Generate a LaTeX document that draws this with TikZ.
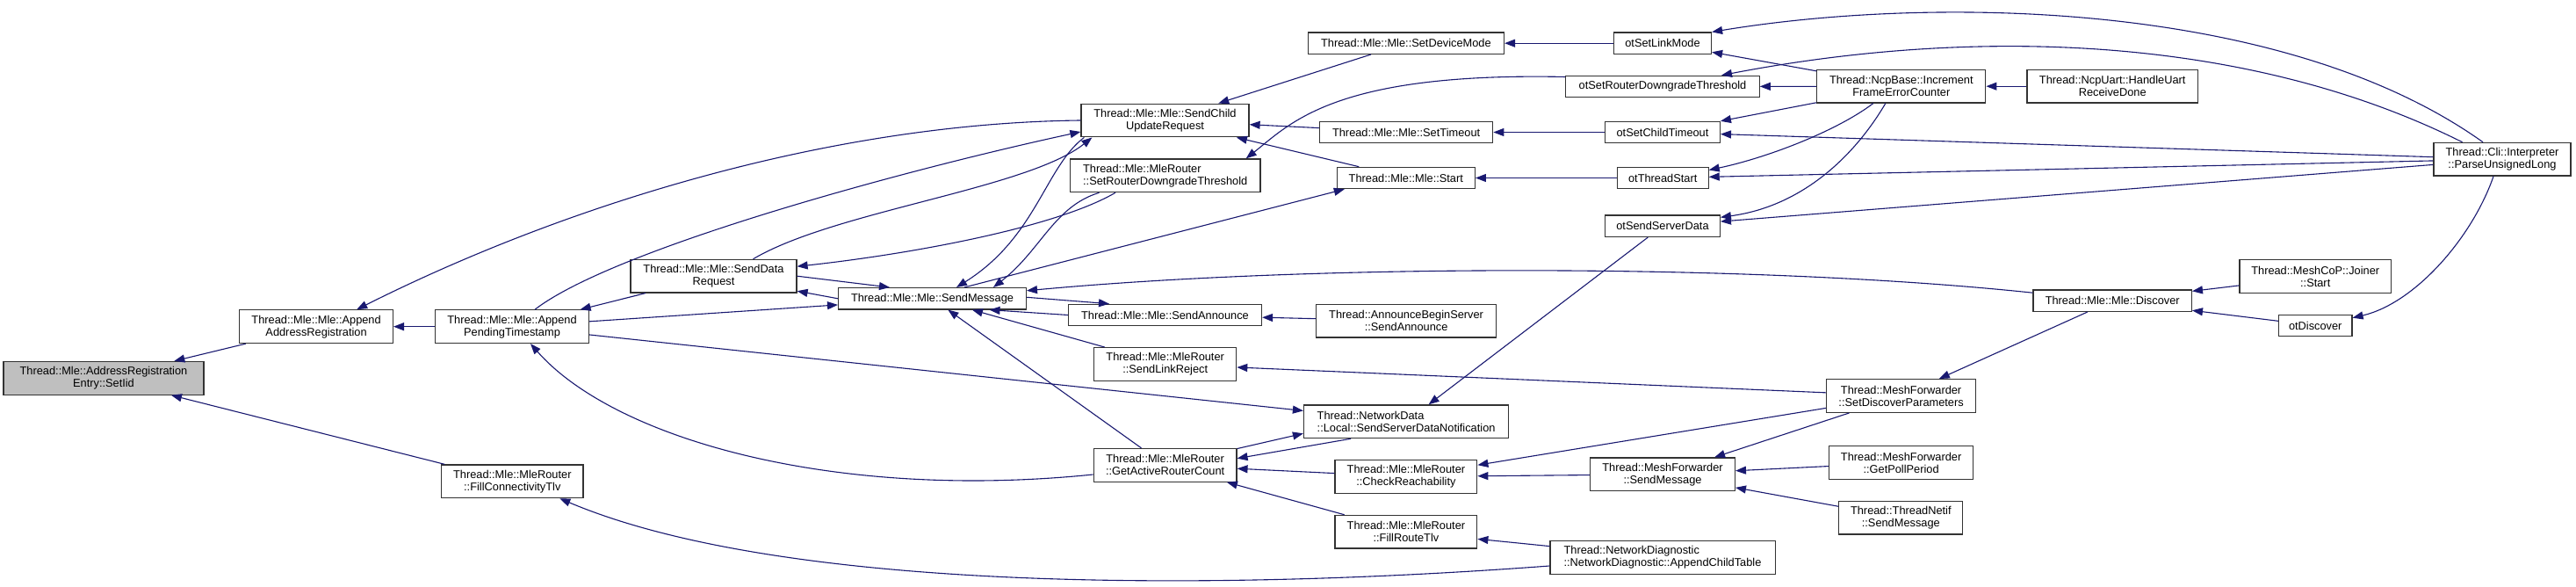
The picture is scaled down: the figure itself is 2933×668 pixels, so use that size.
\documentclass[tikz,border=0pt]{standalone}
\usepackage{fontspec}
\setmainfont{Liberation Sans}
\usetikzlibrary{arrows.meta}
\definecolor{callblue}{RGB}{25,25,112}
\definecolor{rootgray}{RGB}{191,191,191}

\begin{document}
\begin{tikzpicture}[
    x=1pt, y=-1pt,
    every node/.style={font=\fontsize{12.8}{14}\selectfont},
    fn/.style={rectangle, draw=black!80, line width=1.2pt, fill=white, align=center, minimum height=24.4pt, inner xsep=3pt, inner ysep=2pt},
    fntwo/.style={fn, minimum height=37.7pt},
    call/.style={-{Triangle[length=12pt,width=9pt]}, draw=callblue, line width=1.1pt}
]
\useasboundingbox (0,0) rectangle (2933,668);

\node[fntwo, fill=rootgray, minimum width=228pt] (setiid) at (118,430.3) {Thread::Mle::AddressRegistration\\Entry::SetIid};
\node[fntwo, minimum width=174.6pt] (appaddr) at (360.1,371.7) {Thread::Mle::Mle::Append\\AddressRegistration};
\node[fntwo, minimum width=175pt] (apppend) at (583,371.7) {Thread::Mle::Mle::Append\\PendingTimestamp};
\node[fntwo, minimum width=161.4pt] (fillconn) at (583.3,547.8) {Thread::Mle::MleRouter\\::FillConnectivityTlv};
\node[fntwo, minimum width=189pt] (senddata) at (812.5,314.2) {Thread::Mle::Mle::SendData\\Request};
\node[fn, minimum width=213.8pt] (sendmsg) at (1061.5,339.8) {Thread::Mle::Mle::SendMessage};

\node[fntwo, minimum width=191pt] (sendchild) at (1326.5,137) {Thread::Mle::Mle::SendChild\\UpdateRequest};
\node[fntwo, align=left, minimum width=216.6pt] (setdowng) at (1326.7,199.8) {Thread::Mle::MleRouter\\::SetRouterDowngradeThreshold};
\node[fn, minimum width=220pt] (sendann) at (1326.5,358.5) {Thread::Mle::Mle::SendAnnounce};
\node[fntwo, minimum width=162pt] (linkrej) at (1326.7,414.5) {Thread::Mle::MleRouter\\::SendLinkReject};
\node[fntwo, minimum width=162.7pt] (activecnt) at (1326.6,529.3) {Thread::Mle::MleRouter\\::GetActiveRouterCount};

\node[fn, minimum width=223.2pt] (devmode) at (1600.9,49.2) {Thread::Mle::Mle::SetDeviceMode};
\node[fn, minimum width=197.2pt] (settimeout) at (1601.1,150.5) {Thread::Mle::Mle::SetTimeout};
\node[fn, minimum width=157.1pt] (mlestart) at (1600.8,202.5) {Thread::Mle::Mle::Start};
\node[fntwo, minimum width=204.8pt] (annbegin) at (1601.1,365.2) {Thread::AnnounceBeginServer\\::SendAnnounce};
\node[fntwo, align=left, minimum width=233.2pt] (srvnotif) at (1601.1,479.8) {Thread::NetworkData\\::Local::SendServerDataNotification};
\node[fntwo, minimum width=161.8pt] (checkreach) at (1600.9,542.5) {Thread::Mle::MleRouter\\::CheckReachability};
\node[fntwo, minimum width=161.8pt] (fillroute) at (1600.9,605.2) {Thread::Mle::MleRouter\\::FillRouteTlv};

\node[fn, minimum width=111pt] (otlinkmode) at (1893,49.2) {otSetLinkMode};
\node[fn, minimum width=220.4pt] (otdowng) at (1893,98.5) {otSetRouterDowngradeThreshold};
\node[fn, minimum width=130.7pt] (otchildto) at (1893,150.5) {otSetChildTimeout};
\node[fn, minimum width=103.8pt] (otstart) at (1893.2,202.5) {otThreadStart};
\node[fn, minimum width=130.7pt] (otsrvdata) at (1893,257.3) {otSendServerData};
\node[fntwo, minimum width=164.7pt] (meshsend) at (1893,539.8) {Thread::MeshForwarder\\::SendMessage};
\node[fntwo, align=left, minimum width=256.2pt] (childtable) at (1893,634.5) {Thread::NetworkDiagnostic\\::NetworkDiagnostic::AppendChildTable};

\node[fntwo, minimum width=192pt] (ncpinc) at (2164.8,98.2) {Thread::NcpBase::Increment\\FrameErrorCounter};
\node[fntwo, minimum width=170pt] (discparams) at (2164.6,450.5) {Thread::MeshForwarder\\::SetDiscoverParameters};
\node[fntwo, minimum width=164pt] (pollper) at (2164.6,526.5) {Thread::MeshForwarder\\::GetPollPeriod};
\node[fntwo, minimum width=141pt] (netifsend) at (2164.3,589.2) {Thread::ThreadNetif\\::SendMessage};

\node[fntwo, minimum width=194.4pt] (uartdone) at (2405.2,98.2) {Thread::NcpUart::HandleUart\\ReceiveDone};
\node[fn, minimum width=180.3pt] (discover) at (2405.2,342.2) {Thread::Mle::Mle::Discover};
\node[fntwo, minimum width=172.3pt] (joinstart) at (2636.2,314.5) {Thread::MeshCoP::Joiner\\::Start};
\node[fn, minimum width=83.6pt] (otdiscover) at (2636.2,370.5) {otDiscover};
\node[fntwo, minimum width=156pt] (parseul) at (2849,181.2) {Thread::Cli::Interpreter\\::ParseUnsignedLong};

\draw[call] (appaddr) -- (setiid);
\draw[call] (fillconn) -- (setiid);
\draw[call] (apppend) -- (appaddr);
\draw[call] (sendchild.west) .. controls (950,140) and (650,230) .. ([xshift=46pt]appaddr.north);
\draw[call] ([xshift=26pt]apppend.north) .. controls (699,283) and (1031,193) .. ([yshift=-13pt]sendchild.west);
\draw[call] (senddata) -- (apppend);
\draw[call] (apppend) -- (sendmsg);
\draw[call] (apppend) -- (srvnotif);
\draw[call] ([yshift=-10.7pt]activecnt.west) .. controls (950,570) and (700,500) .. ([xshift=21pt]apppend.south);
\draw[call] ([yshift=-9.5pt]childtable.west) .. controls (1350,675) and (880,670) .. ([xshift=54pt]fillconn.south);

\draw[call] ([xshift=4pt]sendchild.south west) .. controls (1190,190) and (1180,270) .. ([xshift=27.5pt]sendmsg.north);
\draw[call] ([xshift=45pt]senddata.north) .. controls (950,240) and (1170,215) .. ([xshift=13pt]sendchild.south west);
\draw[call] (devmode) -- (sendchild);
\draw[call] (settimeout) -- (sendchild);
\draw[call] (mlestart) -- (sendchild);
\draw[call] ([xshift=-56.7pt]setdowng.south) .. controls (1200,260) and (1030,290) .. ([yshift=11pt]senddata.east);
\draw[call] ([xshift=-75.2pt]setdowng.south) .. controls (1200,235) and (1185,285) .. ([xshift=69.5pt]sendmsg.north);
\draw[call] ([yshift=11pt]otdowng.west) .. controls (1520,82) and (1470,140) .. ([xshift=92pt]setdowng.north);
\draw[call] (senddata.east) -- ([xshift=-48.5pt]sendmsg.north);
\draw[call] (sendmsg.west) -- ([yshift=-17pt]senddata.east);
\draw[call] ([xshift=36.5pt]sendmsg.north) -- ([xshift=-70pt]mlestart.south);
\draw[call] ([yshift=9pt]discover.west) .. controls (2000,300) and (1500,300) .. ([yshift=9pt]sendmsg.east);
\draw[call] ([yshift=1.5pt]sendmsg.east) -- ([xshift=-63.5pt]sendann.north);
\draw[call] (sendann.west) -- ([xshift=65pt]sendmsg.south);
\draw[call] (linkrej) -- (sendmsg);
\draw[call] (activecnt) -- (sendmsg);

\draw[call] (annbegin) -- (sendann);
\draw[call] (discparams) -- (linkrej);
\draw[call] (activecnt) -- ([yshift=-13.5pt]srvnotif.west);
\draw[call] ([xshift=-63pt]srvnotif.south) -- ([yshift=7.6pt]activecnt.east);
\draw[call] (checkreach) -- (activecnt);
\draw[call] (fillroute) -- (activecnt);
\draw[call] (otsrvdata) -- (srvnotif);
\draw[call] (meshsend) -- (checkreach);
\draw[call] (discparams) -- (checkreach);
\draw[call] (childtable) -- (fillroute);
\draw[call] (discparams) -- (meshsend);
\draw[call] (pollper) -- (meshsend);
\draw[call] (netifsend) -- (meshsend);

\draw[call] (discover) -- (discparams);
\draw[call] (joinstart) -- (discover);
\draw[call] (otdiscover) -- (discover);
\draw[call] ([xshift=-10pt]parseul.south) .. controls (2815,270) and (2750,345) .. ([yshift=8.8pt]otdiscover.east);
\draw[call] ([xshift=-22pt]parseul.north) .. controls (2600,0) and (2200,-5) .. (otlinkmode.north east);
\draw[call] ([xshift=-45.5pt]parseul.north) .. controls (2560,40) and (2250,30) .. ([xshift=67pt]otdowng.north);
\draw[call] (ncpinc) -- (otlinkmode);
\draw[call] (ncpinc) -- (otdowng);
\draw[call] (ncpinc) -- (otchildto);
\draw[call] (parseul) -- (otchildto);
\draw[call] ([xshift=-32pt]ncpinc.south) .. controls (2090,150) and (2010,180) .. ([yshift=9pt]otstart.east);
\draw[call] (parseul) -- (otstart);
\draw[call] ([xshift=-18pt]ncpinc.south) .. controls (2110,180) and (2050,235) .. ([yshift=10pt]otsrvdata.east);
\draw[call] (parseul) -- (otsrvdata);
\draw[call] (uartdone) -- (ncpinc);
\draw[call] (otlinkmode) -- (devmode);
\draw[call] (otchildto) -- (settimeout);
\draw[call] (otstart) -- (mlestart);

\end{tikzpicture}
\end{document}
